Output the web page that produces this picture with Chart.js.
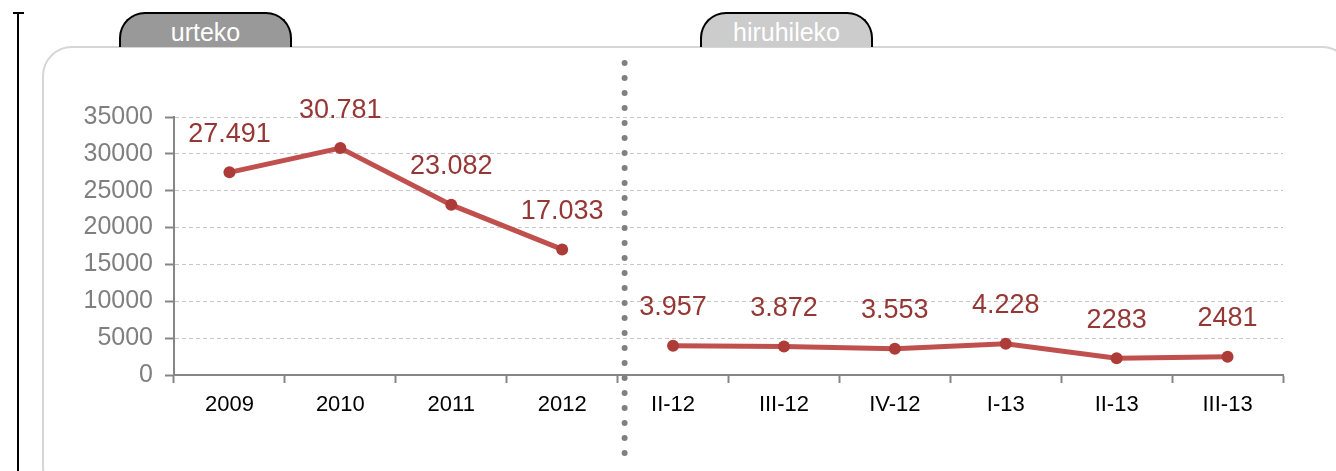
<!DOCTYPE html>
<html>
<head>
<meta charset="utf-8">
<script src="https://cdn.jsdelivr.net/npm/chart.js@4/dist/chart.umd.min.js"></script>
<style>
  html, body { margin: 0; padding: 0; background: #fff; }
  body { width: 1336px; height: 471px; position: relative; overflow: hidden; font-family: "Liberation Sans", Arial, sans-serif; }
  #vline { position: absolute; left: 17px; top: 12px; width: 2px; height: 470px; background: #000; }
  #vtick { position: absolute; left: 13px; top: 12px; width: 11px; height: 2px; background: #000; }
  #box { position: absolute; left: 42px; top: 46px; width: 1310px; height: 450px; border: 2px solid #d6d6d6; border-radius: 30px; box-sizing: border-box; }
  .tab { position: absolute; top: 12px; height: 35px; width: 173px; box-sizing: border-box; border: 2px solid #000; border-bottom: none; border-radius: 26px 26px 0 0; color: #fff; font-size: 25px; text-align: center; line-height: 36px; }
  #tab1 { left: 119px; background: #999999; }
  #tab2 { left: 700px; background: #cccccc; }
  #wrap { position: absolute; left: 0; top: 0; width: 1336px; height: 471px; }
</style>
</head>
<body>
<div id="vline"></div>
<div id="vtick"></div>
<div id="box"></div>
<div class="tab" id="tab1">urteko</div>
<div class="tab" id="tab2">hiruhileko</div>
<div id="wrap"><canvas id="c" width="1336" height="471"></canvas></div>
<script>
const categories = ["2009", "2010", "2011", "2012", "II-12", "III-12", "IV-12", "I-13", "II-13", "III-13"];
const annualValues = [27491, 30781, 23082, 17033, null, null, null, null, null, null];
const quarterlyValues = [null, null, null, null, 3957, 3872, 3553, 4228, 2283, 2481];
const valueLabels = ["27.491", "30.781", "23.082", "17.033", "3.957", "3.872", "3.553", "4.228", "2283", "2481"];
const yTicks = [0, 5000, 10000, 15000, 20000, 25000, 30000, 35000];

const FONT = "'Liberation Sans', Arial, sans-serif";
const LINE = "#c0504d";
const POINT = "#ad3c39";
const LABEL = "#953735";

const dataLabelPlugin = {
  id: "dataLabels",
  afterDatasetsDraw(chart) {
    const ctx = chart.ctx;
    ctx.save();
    ctx.fillStyle = LABEL;
    ctx.font = "27px " + FONT;
    ctx.textAlign = "center";
    ctx.textBaseline = "middle";
    chart.data.datasets.forEach((ds, di) => {
      const meta = chart.getDatasetMeta(di);
      meta.data.forEach((pt, i) => {
        if (ds.data[i] === null) return;
        ctx.fillText(valueLabels[i], pt.x, pt.y - 38);
      });
    });
    ctx.restore();
  }
};

const separatorPlugin = {
  id: "separator",
  afterDraw(chart) {
    const x = chart.scales.x;
    const xs = (x.getPixelForValue(3) + x.getPixelForValue(4)) / 2 + 7;
    const ctx = chart.ctx;
    ctx.save();
    ctx.fillStyle = "#808080";
    for (let y = 63; y <= 454; y += 15) {
      ctx.beginPath();
      ctx.arc(xs, y, 3, 0, Math.PI * 2);
      ctx.fill();
    }
    ctx.restore();
  }
};

const ds = (data) => ({ data, borderColor: LINE, backgroundColor: POINT, borderWidth: 5, pointRadius: 6, pointBackgroundColor: POINT, pointBorderColor: POINT, pointBorderWidth: 0, tension: 0, spanGaps: false });

new Chart(document.getElementById("c"), {
  type: "line",
  data: { labels: categories, datasets: [ds(annualValues), ds(quarterlyValues)] },
  options: {
    responsive: false,
    animation: false,
    layout: { padding: { left: 0, top: 117, right: 53, bottom: 0 } },
    plugins: { legend: { display: false }, tooltip: { enabled: false }, title: { display: false } },
    scales: {
      x: {
        offset: true,
        grid: { display: true, offset: true, drawOnChartArea: false, drawTicks: true, tickLength: 8, tickColor: "#868686", tickWidth: 2, color: "#868686" },
        border: { display: true, color: "#868686", width: 2 },
        ticks: { color: "#000", font: { family: FONT, size: 22 }, padding: 9, maxRotation: 0, autoSkip: false },
        afterFit(s) { s.height = 96; }
      },
      y: {
        min: 0, max: 35000,
        afterBuildTicks(s) { s.ticks = yTicks.map(v => ({ value: v })); },
        grid: { color: "#c8c8c8", lineWidth: 1, drawTicks: true, tickLength: 9, tickColor: "#868686", tickWidth: 2 },
        border: { display: true, color: "#868686", width: 2, dash: [4, 3] },
        ticks: { color: "#7f7f7f", font: { family: FONT, size: 25 }, padding: 12, callback: (v) => String(v) },
        afterFit(s) { s.width = 174; }
      }
    }
  },
  plugins: [dataLabelPlugin, separatorPlugin]
});
</script>
</body>
</html>
